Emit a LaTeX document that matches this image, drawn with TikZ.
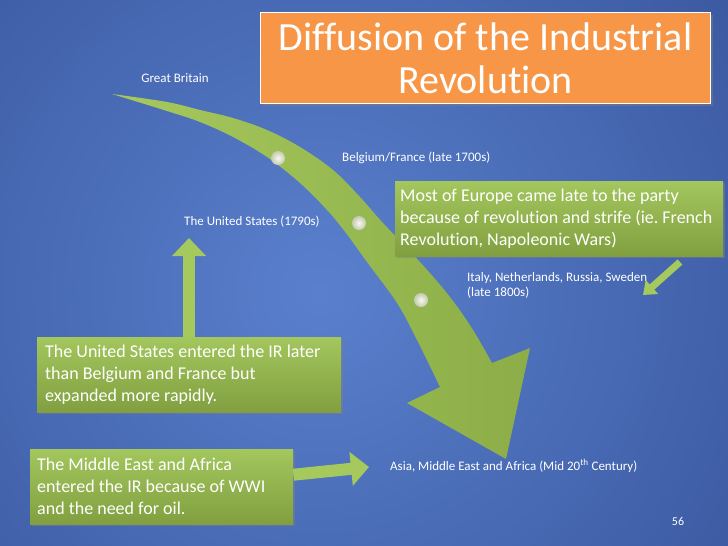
\documentclass[tikz,border=0pt]{standalone}
\usepackage{fontspec}
\setmainfont{Carlito}[Ligatures=NoCommon]
\frenchspacing
\usetikzlibrary{arrows.meta,shadows}

\definecolor{bglight}{HTML}{5A80CD}
\definecolor{bgdark}{HTML}{172C6E}
\definecolor{boxtop}{HTML}{A3C65D}
\definecolor{boxbottom}{HTML}{819F40}
\definecolor{arrowlight}{HTML}{A6C95E}
\definecolor{arrowdark}{HTML}{8CAD47}
\definecolor{titleorange}{HTML}{F79646}
\definecolor{dotgray}{HTML}{C3CAB0}

\begin{document}
\begin{tikzpicture}
				[x=1pt, y=-1pt,
				greenbox/.style = {top color=boxtop, bottom color=boxbottom,
				drop shadow={shadow xshift=2pt, shadow yshift=-2pt, opacity=0.45},
				text=white, font=\fontsize{18}{22}\selectfont, align=flush left,
				inner xsep=7pt, inner ysep=0pt, minimum height=75pt, anchor=north west},
				titlebox/.style = {fill=titleorange, draw=white, line width=1.5pt,
				drop shadow={shadow xshift=2pt, shadow yshift=-2pt, opacity=0.45},
				text=white, font=\fontsize{40}{43}\selectfont, align=center,
				minimum width=450pt, minimum height=91pt},
				place/.style = {text=white, font=\fontsize{13}{15}\selectfont, inner sep=0pt},
				dot/.style = {circle, minimum size=14pt, inner sep=0pt,
				inner color=white!95!olive, outer color=dotgray},
				blockarrow/.style = {draw=arrowlight, line width=12pt,
				-{Triangle[width=33pt, length=18pt]}},
				smallarrow/.style = {draw=arrowlight, line width=7pt,
				-{Triangle[width=18pt, length=12pt]}}]
				\useasboundingbox (0,0) rectangle (728,546);
				% background
				\fill[bgdark] (0,0) rectangle (728,546);
				\begin{scope}
					\clip (0,0) rectangle (728,546);
					\shade[inner color=bglight, outer color=bgdark] (320,290) circle (1100);
				\end{scope}
				% timeline arrow
				\shade[left color=arrowlight, right color=arrowdark]
					plot[smooth, tension=0.6] coordinates {(112,94) (167,102) (200,110) (233,118)
						(267,130) (300,147) (333,170) (360,197) (383,223) (420,262) (450,297)
						(473,330) (492,363)}
					-- (530,348) -- (506,459) -- (407,403) -- (440,387)
					-- plot[smooth, tension=0.6] coordinates {(440,387) (417,340) (397,303)
						(367,262) (346,233) (327,210) (300,183) (267,157) (233,137) (200,122)
						(167,111) (112,94)}
					-- cycle;
				\node[dot] (d1) at (278,158) {};
				\node[dot] (d2) at (359,223) {};
				\node[dot] (d3) at (421,300) {};
				% title
				\node[titlebox] (title) at (485.5,58) {Diffusion of the Industrial\\Revolution};
				% places
				\node[place] (gb) at (175,78) {Great Britain};
				\node[place, anchor=west] (befr) at (342,158) {Belgium/France (late 1700s)};
				\node[place, anchor=west] (us) at (184,222) {The United States (1790s)};
				\node[place, anchor=base west, align=left] (italy) at (467,296)
					{Italy, Netherlands, Russia, Sweden\\(late 1800s)};
				\node[place, anchor=west] (asia) at (390,466)
					{Asia, Middle East and Africa (Mid 20\textsuperscript{th} Century)};
				\node[place, font=\fontsize{12}{14}\selectfont] (page) at (678,521) {56};
				% notes
				\node[greenbox, text width=318pt, inner xsep=5pt] (europe) at (395,181)
					{Most of Europe came late to the party\\because of revolution and strife (ie. French\\Revolution, Napoleonic Wars)};
				\node[greenbox, text width=288pt, inner xsep=8pt] (usnote) at (37,337)
					{The United States entered the IR later\\than Belgium and France but\\expanded more rapidly.};
				\node[greenbox, text width=249pt] (menote) at (30,449)
					{The Middle East and Africa\\entered the IR because of WWI\\and the need for oil.};
				% pointers
				\coordinate (usup) at (189,238);
				\coordinate (asiaup) at (369,467);
				\coordinate (eutail) at (680,262);
				\coordinate (swede) at (643,295);
				\draw[blockarrow] (usnote.north -| usup) -- (usup);
				\draw[blockarrow] ([yshift=12pt]menote.east) -- (asiaup);
				\draw[smallarrow] (eutail) -- (swede);
			\end{tikzpicture}
\end{document}
